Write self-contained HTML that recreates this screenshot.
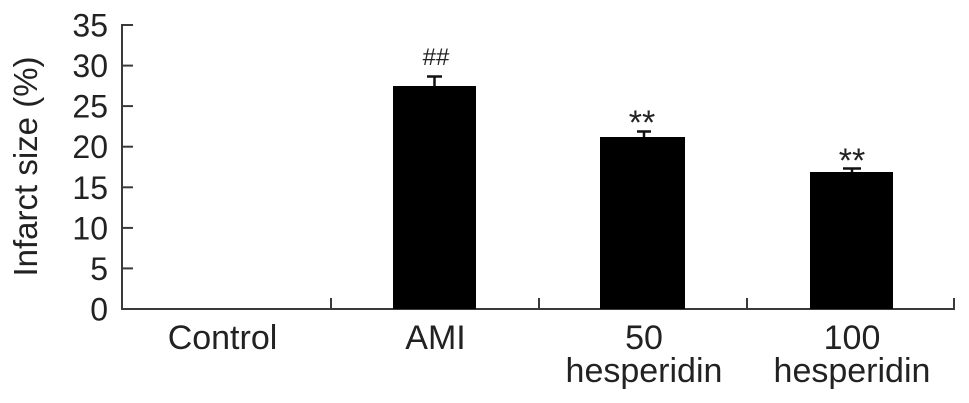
<!DOCTYPE html>
<html>
<head>
<meta charset="utf-8">
<style>
  html, body { margin: 0; padding: 0; background: #fff; }
  svg { display: block; }
  text { font-family: "Liberation Sans", Arial, sans-serif; fill: #222; }
</style>
</head>
<body>
<svg width="969" height="403" viewBox="0 0 969 403" xmlns="http://www.w3.org/2000/svg">
  <rect width="969" height="403" fill="#fff"/>

  <!-- Y axis title -->
  <text transform="translate(37,166.5) rotate(-90)" text-anchor="middle" font-size="33">Infarct size (%)</text>

  <!-- Y axis -->
  <g stroke="#3a3a3a" stroke-width="2" fill="none">
    <line x1="122" y1="24" x2="122" y2="309"/>
    <line x1="122" y1="25" x2="133" y2="25"/>
    <line x1="122" y1="65.6" x2="133" y2="65.6"/>
    <line x1="122" y1="106.1" x2="133" y2="106.1"/>
    <line x1="122" y1="146.7" x2="133" y2="146.7"/>
    <line x1="122" y1="187.3" x2="133" y2="187.3"/>
    <line x1="122" y1="227.9" x2="133" y2="227.9"/>
    <line x1="122" y1="268.4" x2="133" y2="268.4"/>
    <!-- X axis -->
    <line x1="121" y1="309" x2="955" y2="309"/>
    <line x1="331" y1="298" x2="331" y2="309"/>
    <line x1="539" y1="298" x2="539" y2="309"/>
    <line x1="747" y1="298" x2="747" y2="309"/>
    <line x1="954" y1="298" x2="954" y2="309"/>
  </g>

  <!-- Y tick labels -->
  <g font-size="32" text-anchor="end">
    <text x="108" y="36.5">35</text>
    <text x="108" y="77">30</text>
    <text x="108" y="117.6">25</text>
    <text x="108" y="158.2">20</text>
    <text x="108" y="198.8">15</text>
    <text x="108" y="239.4">10</text>
    <text x="108" y="280">5</text>
    <text x="108" y="320.5">0</text>
  </g>

  <!-- Bars -->
  <g fill="#000">
    <rect x="393" y="86" width="83" height="223"/>
    <rect x="600" y="137" width="85" height="172"/>
    <rect x="810" y="172" width="83" height="137"/>
  </g>

  <!-- Error bars -->
  <g stroke="#111" stroke-width="2.5">
    <line x1="434.5" y1="76" x2="434.5" y2="86"/>
    <line x1="427" y1="76.5" x2="442" y2="76.5"/>
    <line x1="644" y1="131" x2="644" y2="137"/>
    <line x1="637" y1="131.5" x2="651" y2="131.5"/>
    <line x1="852" y1="168" x2="852" y2="172"/>
    <line x1="843" y1="168.5" x2="861" y2="168.5"/>
  </g>

  <!-- Significance marks -->
  <text x="436" y="65" font-size="24" text-anchor="middle">##</text>
  <text x="642" y="134" font-size="34" text-anchor="middle">**</text>
  <text x="852" y="172" font-size="34" text-anchor="middle">**</text>

  <!-- X labels -->
  <g font-size="34" text-anchor="middle">
    <text x="222.5" y="349">Control</text>
    <text x="435.5" y="349">AMI</text>
    <text x="644" y="349">50</text>
    <text x="644" y="382">hesperidin</text>
    <text x="852" y="349">100</text>
    <text x="852" y="382">hesperidin</text>
  </g>
</svg>
</body>
</html>
